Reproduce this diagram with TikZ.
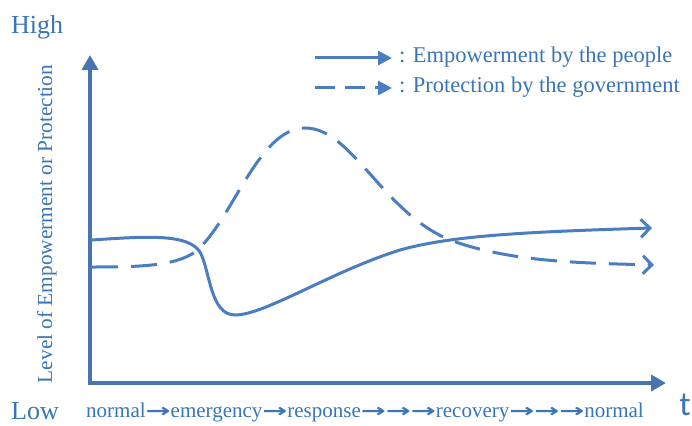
\documentclass[tikz,border=0pt]{standalone}
\usepackage{fontspec}
\setmainfont{Liberation Serif}
\newfontfamily\arrfont{DejaVu Sans}
\newfontfamily\tfont{Carlito}
\usetikzlibrary{arrows.meta}
\definecolor{curve}{RGB}{74,126,193}
\definecolor{axis}{RGB}{72,116,176}
\definecolor{txt}{RGB}{58,117,181}
\newcommand{\ra}{{\arrfont\bfseries\fontsize{19}{21}\selectfont\scalebox{1.57}[1]{→}}}
\tikzset{
  axisline/.style={draw=axis, line width=4pt, -{Triangle[length=15pt,width=16pt]}},
  solidcurve/.style={draw=curve, line width=3pt, line cap=round, -{Straight Barb[length=9pt,width=18pt,line width=3pt]}},
  dashcurve/.style={draw=curve, line width=3pt, dash pattern=on 26pt off 13pt, -{Straight Barb[length=9pt,width=18pt,line width=3pt]}},
  legsolid/.style={draw=curve, line width=3pt, -{Triangle[length=14pt,width=14pt]}},
  legdash/.style={draw=curve, line width=3pt, dash pattern=on 20pt off 10pt, -{Triangle[length=14pt,width=14pt]}},
  lab/.style={text=txt, inner sep=0pt},
}
\begin{document}
\begin{tikzpicture}[x=1pt,y=-1pt]
\useasboundingbox[fill=white] (0,0) rectangle (692,425);
% axes
\coordinate (o) at (90,383);
\coordinate (ytop) at (90,55);
\coordinate (xend) at (666,383);
\draw[axisline] ([yshift=-2pt]o) -- (ytop);
\draw[axisline] ([xshift=-2pt]o) -- (xend);
% curves
\coordinate (s0) at (92,240);
\coordinate (s1) at (652,228);
\coordinate (d0) at (92,267);
\coordinate (d1) at (654,265);
\draw[solidcurve] (s0) .. controls (150,236) and (188,234) .. (200,252)
  .. controls (210,270) and (210,315) .. (235,315)
  .. controls (265,315) and (330,272) .. (400,250)
  .. controls (450,236) and (520,232) .. (s1);
\draw[dashcurve] (d0) .. controls (140,267) and (175,266) .. (195,252)
  .. controls (232,222) and (258,128) .. (305,128)
  .. controls (352,128) and (382,212) .. (450,240)
  .. controls (510,262) and (580,263) .. (d1);
% legend
\coordinate (l1a) at (315,58);
\coordinate (l1b) at (392,58);
\coordinate (l2a) at (315,88);
\coordinate (l2b) at (392,88);
\draw[legsolid] (l1a) -- (l1b);
\draw[legdash] (l2a) -- (l2b);
\node[lab, anchor=west, font=\fontsize{22.5}{24}\selectfont] (leg1) at (399,57) {: Empowerment by the people};
\node[lab, anchor=west, font=\fontsize{22.5}{24}\selectfont] (leg2) at (399,87) {: Protection by the government};
% labels
\node[lab, anchor=west, font=\fontsize{26}{28}\selectfont] (high) at (11,27) {High};
\node[lab, anchor=west, font=\fontsize{26}{28}\selectfont] (low) at (11,411) {Low};
\node[lab, anchor=base, font=\tfont\fontsize{34}{36}\selectfont] (t) at (685,415) {t};
\node[lab, rotate=90, font=\fontsize{21.3}{23}\selectfont] (ylab) at (47,224) {Level of Empowerment or Protection};
\node[lab, anchor=west, font=\fontsize{21}{23}\selectfont] (xlab) at (86,412) {normal\ra emergency\ra response\ra\ra\ra recovery\ra\ra\ra normal};
\end{tikzpicture}
\end{document}
